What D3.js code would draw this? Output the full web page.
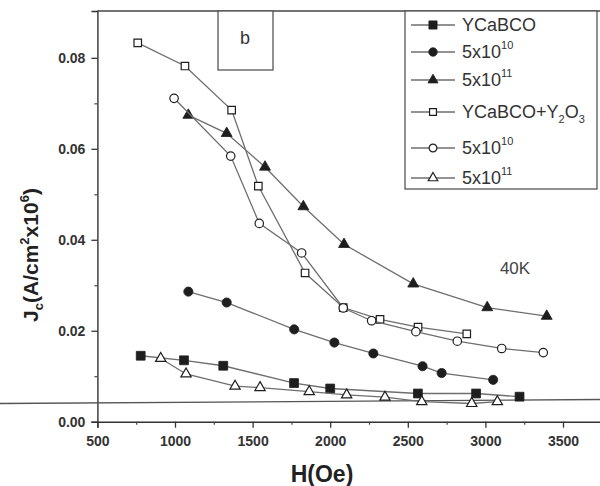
<!DOCTYPE html>
<html>
<head>
<meta charset="utf-8">
<script src="https://cdn.jsdelivr.net/npm/d3@7"></script>
<style>
  html, body { margin: 0; padding: 0; background: #fff; }
  svg { display: block; font-family: Arial, "Liberation Sans", sans-serif; }
</style>
</head>
<body>
<script>
// Jc vs H at 40K, six samples
const hYCaBCO = [779, 1058, 1311, 1767, 2000, 2565, 2940, 3220];
const jYCaBCO = [0.0145, 0.0135, 0.0123, 0.0085, 0.0073, 0.0062, 0.0062, 0.0055];

const hY10 = [1086, 1333, 1768, 2027, 2278, 2595, 2718, 3050];
const jY10 = [0.0286, 0.0262, 0.0203, 0.0174, 0.0150, 0.0122, 0.0107, 0.0092];

const hY11 = [1086, 1333, 1580, 1827, 2089, 2535, 3012, 3395];
const jY11 = [0.0674, 0.0634, 0.0560, 0.0473, 0.0390, 0.0303, 0.0251, 0.0232];

const hOx = [760, 1064, 1365, 1537, 1838, 2084, 2321, 2566, 2880];
const jOx = [0.0833, 0.0782, 0.0685, 0.0518, 0.0327, 0.0251, 0.0225, 0.0208, 0.0193];

const hOx10 = [994, 1359, 1543, 1816, 2084, 2267, 2552, 2819, 3105, 3373];
const jOx10 = [0.0711, 0.0584, 0.0436, 0.0371, 0.0250, 0.0222, 0.0198, 0.0177, 0.0161, 0.0152];

const hOx11 = [908, 1071, 1387, 1548, 1865, 2106, 2353, 2590, 2912, 3077];
const jOx11 = [0.0139, 0.0105, 0.0078, 0.0075, 0.0066, 0.0059, 0.0054, 0.0044, 0.0040, 0.0044];

const xTicks = [500, 1000, 1500, 2000, 2500, 3000, 3500];
const xMinor = [750, 1250, 1750, 2250, 2750, 3250, 3750];
const yTicks = [0, 0.02, 0.04, 0.06, 0.08];
const yMinor = [0.01, 0.03, 0.05, 0.07];

const series = [
  { name: 'YCaBCO', sup: '', h: hYCaBCO, j: jYCaBCO, sym: d3.symbolSquare, size: 78, filled: true },
  { name: '5x10', sup: '10', h: hY10, j: jY10, sym: d3.symbolCircle, size: 66, filled: true },
  { name: '5x10', sup: '11', h: hY11, j: jY11, sym: d3.symbolTriangle, size: 52, filled: true },
  { name: 'YCaBCO+Y', sup: '', h: hOx, j: jOx, sym: d3.symbolSquare, size: 56, filled: false, oxide: true },
  { name: '5x10', sup: '10', h: hOx10, j: jOx10, sym: d3.symbolCircle, size: 56, filled: false },
  { name: '5x10', sup: '11', h: hOx11, j: jOx11, sym: d3.symbolTriangle, size: 46, filled: false }
];

const width = 600, height = 486;
const x = d3.scaleLinear([500, 3750], [97.4, 601.8]);
const y = d3.scaleLinear([0, 0.0903], [421.7, 11]);

const svg = d3.select('body').append('svg')
  .attr('width', width)
  .attr('height', height)
  .attr('viewBox', [0, 0, width, height]);

const ink = '#1e1e1e';
const lineInk = '#6e6e6e';

// frame top
svg.append('line')
  .attr('x1', x(500)).attr('x2', x(3750))
  .attr('y1', y.range()[1]).attr('y2', y.range()[1])
  .attr('stroke', '#444').attr('stroke-width', 1.3);

// x axis
const gx = svg.append('g')
  .attr('transform', `translate(0,${y(0)})`)
  .call(d3.axisBottom(x).tickValues(xTicks).tickSize(6).tickPadding(8).tickFormat(d3.format('d')));
gx.select('.domain').attr('stroke', '#333').attr('stroke-width', 1.4);
gx.selectAll('.tick line').attr('stroke', '#333').attr('stroke-width', 1.3);
gx.selectAll('.tick text')
  .attr('font-size', 14).attr('font-weight', 'bold').attr('fill', '#333');

svg.append('g')
  .attr('transform', `translate(0,${y(0)})`)
  .call(d3.axisBottom(x).tickValues(xMinor).tickSize(3).tickFormat(''))
  .call(g => g.select('.domain').remove())
  .call(g => g.selectAll('.tick line').attr('stroke', '#444').attr('stroke-width', 1.2));

// y axis
const gy = svg.append('g')
  .attr('transform', `translate(${x(500)},0)`)
  .call(d3.axisLeft(y).tickValues(yTicks).tickSize(6).tickPadding(6).tickFormat(d3.format('.2f')));
gy.select('.domain').attr('stroke', '#333').attr('stroke-width', 1.4);
gy.selectAll('.tick line').attr('stroke', '#333').attr('stroke-width', 1.3);
gy.selectAll('.tick text')
  .attr('font-size', 14).attr('font-weight', 'bold').attr('fill', '#333');

svg.append('g')
  .attr('transform', `translate(${x(500)},0)`)
  .call(d3.axisLeft(y).tickValues(yMinor).tickSize(3).tickFormat(''))
  .call(g => g.select('.domain').remove())
  .call(g => g.selectAll('.tick line').attr('stroke', '#444').attr('stroke-width', 1.2));

// axis titles
svg.append('text')
  .attr('x', 322).attr('y', 482)
  .attr('text-anchor', 'middle')
  .attr('font-size', 23).attr('font-weight', 'bold').attr('fill', '#222')
  .text('H(Oe)');

const yl = svg.append('text')
  .attr('transform', 'translate(38,255) rotate(-90)')
  .attr('text-anchor', 'middle')
  .attr('font-size', 21).attr('font-weight', 'bold').attr('fill', '#222');
yl.append('tspan').text('J');
yl.append('tspan').attr('font-size', 13).attr('dy', 5).text('c');
yl.append('tspan').attr('dy', -5).text('(A/cm');
yl.append('tspan').attr('font-size', 13).attr('dy', -9).text('2');
yl.append('tspan').attr('dy', 9).text('x10');
yl.append('tspan').attr('font-size', 13).attr('dy', -9).text('6');
yl.append('tspan').attr('dy', 9).text(')');

// scan line across the lower part of the figure
svg.append('line')
  .attr('x1', 0).attr('x2', width)
  .attr('y1', 403.5).attr('y2', 399.5)
  .attr('stroke', '#555').attr('stroke-width', 1.3);

// series
const line = d3.line().x(d => x(d[0])).y(d => y(d[1]));
series.forEach(s => {
  const pts = s.h.map((h, i) => [h, s.j[i]]);
  svg.append('path')
    .attr('d', line(pts))
    .attr('fill', 'none')
    .attr('stroke', lineInk)
    .attr('stroke-width', 1.3);
  svg.append('g').selectAll('path')
    .data(pts)
    .join('path')
    .attr('transform', d => `translate(${x(d[0])},${y(d[1])})`)
    .attr('d', d3.symbol(s.sym, s.size))
    .attr('fill', s.filled ? ink : '#fff')
    .attr('stroke', ink)
    .attr('stroke-width', s.filled ? 0.8 : 1.2);
});

// panel label
svg.append('rect')
  .attr('x', 218).attr('y', 11).attr('width', 55).attr('height', 59)
  .attr('fill', '#fff').attr('stroke', '#555').attr('stroke-width', 1.3);
svg.append('text')
  .attr('x', 245).attr('y', 44).attr('text-anchor', 'middle')
  .attr('font-size', 18).attr('fill', '#333').text('b');

svg.append('text')
  .attr('x', 515).attr('y', 274).attr('text-anchor', 'middle')
  .attr('font-size', 17).attr('fill', '#444').text('40K');

// legend
const legRows = [25, 52, 80, 112, 148, 178];
svg.append('rect')
  .attr('x', 405).attr('y', 11).attr('width', 192).attr('height', 178)
  .attr('fill', '#fff').attr('stroke', '#555').attr('stroke-width', 1.3);
series.forEach((s, i) => {
  const ly = legRows[i];
  const g = svg.append('g');
  g.append('line').attr('x1', 411).attr('x2', 455).attr('y1', ly).attr('y2', ly)
    .attr('stroke', lineInk).attr('stroke-width', 1.3);
  g.append('path')
    .attr('transform', `translate(433,${ly})`)
    .attr('d', d3.symbol(s.sym, s.size * 0.85))
    .attr('fill', s.filled ? ink : '#fff')
    .attr('stroke', ink)
    .attr('stroke-width', s.filled ? 0.8 : 1.2);
  const t = g.append('text').attr('x', 462).attr('y', ly + 6)
    .attr('font-size', 18).attr('fill', '#333');
  t.append('tspan').text(s.name);
  if (s.sup) t.append('tspan').attr('font-size', 11).attr('dy', -9).text(s.sup);
  if (s.oxide) {
    t.append('tspan').attr('font-size', 11).attr('dy', 5).text('2');
    t.append('tspan').attr('dy', -5).text('O');
    t.append('tspan').attr('font-size', 11).attr('dy', 5).text('3');
  }
});
</script>
</body>
</html>
